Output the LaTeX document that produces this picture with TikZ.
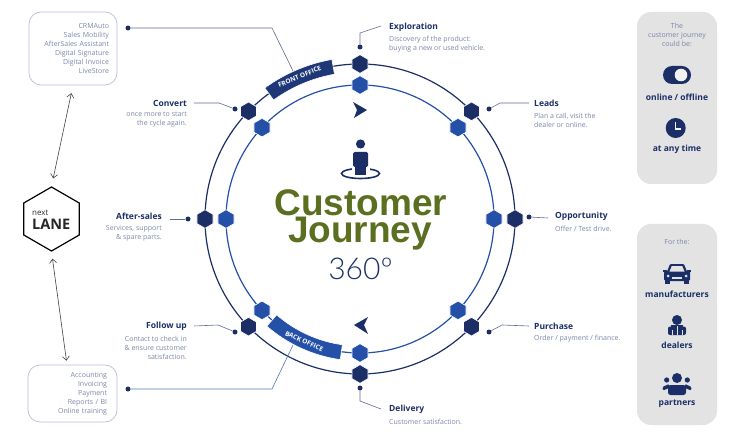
\documentclass[tikz,border=0pt]{standalone}
\usepackage{fontspec}
\setmainfont{Open Sans}
\newfontfamily\titlefont{Liberation Sans}
\newfontfamily\lightfont{Lato Light}
\usetikzlibrary{shapes.geometric,arrows.meta}
\definecolor{navy}{HTML}{1B2F66}
\definecolor{ringblue}{HTML}{2450A8}
\definecolor{olive}{HTML}{5A7020}
\definecolor{panelgray}{HTML}{E3E3E3}
\definecolor{softtext}{HTML}{7C86A8}
\definecolor{boxline}{HTML}{B4BEDC}
\tikzset{
  outerhex/.style={regular polygon,regular polygon sides=6,shape border rotate=30,inner sep=0pt,minimum size=18.5pt,fill=navy,draw=white,line width=.6pt},
  innerhex/.style={outerhex,fill=ringblue},
  spot/.style={circle,fill=navy,inner sep=0pt,minimum size=5pt},
  leader/.style={draw=navy!70,line width=.6pt},
  head/.style={font=\bfseries\fontsize{8.5}{10}\selectfont,text=navy,inner sep=0pt},
  small/.style={font=\fontsize{7}{9}\selectfont,text=softtext,inner sep=0pt},
  toolbox/.style={draw=boxline,rounded corners=12pt,line width=.7pt,font=\fontsize{7}{9}\selectfont,text=softtext,align=right},
  panel/.style={fill=panelgray,rounded corners=14pt,minimum width=80pt,inner sep=0pt},
  bannertext/.style={font=\bfseries\fontsize{6.5}{7}\selectfont,text=white,inner sep=0pt},
  titletext/.style={font=\titlefont\bfseries\fontsize{37}{37}\selectfont,text=olive,inner sep=0pt,anchor=base}
}
\begin{document}
\begin{tikzpicture}[x=1pt,y=1pt]
  \useasboundingbox (0,0) rectangle (736,437);
  \begin{scope}[shift={(360,218)}]
    \draw[navy,line width=1.2pt] (0,0) circle (155);
    \draw[ringblue,line width=1.2pt] (0,0) circle (134);
    \fill[navy!75!ringblue,draw=white,line width=.6pt] (100:162) arc[start angle=100,end angle=126,radius=162]
      -- (126:147) arc[start angle=126,end angle=100,radius=147] -- cycle;
    \fill[ringblue,draw=white,line width=.6pt] (229:142) arc[start angle=229,end angle=262,radius=142]
      -- (262:127) arc[start angle=262,end angle=229,radius=127] -- cycle;
    \draw
      (90:155) node[outerhex] (o0){}
      (44:155) node[outerhex] (o1){}
      (0:155) node[outerhex] (o2){}
      (-44:155) node[outerhex] (o3){}
      (-90:155) node[outerhex] (o4){}
      (224:155) node[outerhex] (o5){}
      (180:155) node[outerhex] (o6){}
      (136:155) node[outerhex] (o7){};
    \draw
      (90:134) node[innerhex] (i0){}
      (43:134) node[innerhex] (i1){}
      (0:134) node[innerhex] (i2){}
      (-43:134) node[innerhex] (i3){}
      (-90:134) node[innerhex] (i4){}
      (223:134) node[innerhex] (i5){}
      (180:134) node[innerhex] (i6){}
      (137:134) node[innerhex] (i7){};
    \node[bannertext,rotate=23] (frontoffice) at (113:154.5) {FRONT OFFICE};
    \node[bannertext,rotate=-24.5] (backoffice) at (245.5:134.5) {BACK OFFICE};
  \end{scope}
  \fill[navy] (353,335) -- (367,327) -- (354,319) -- (357,327) -- cycle;
  \fill[navy] (368,120) -- (354,112) -- (368,103) -- (364,112) -- cycle;
  \draw[navy,line width=1.6pt] (360.5,263.5) ellipse (19 and 5);
  \fill[white] (351.5,261) rectangle (369.5,272);
  \fill[navy] (360.5,293) circle (4.6);
  \fill[navy,rounded corners=1.5pt] (353,285) rectangle (368,270);
  \fill[navy] (355,271) rectangle (366,262);
  \node[titletext] (customer) at (361,221.5) {Customer};
  \node[titletext] (journey) at (360,194) {Journey};
  \node[font=\lightfont\fontsize{30}{30}\selectfont,text=navy,inner sep=0pt] (degrees) at (360.5,168) {360º};

  \node[spot] (s0) at (360,390) {};
  \node[spot] (s1) at (489,328) {};
  \node[spot] (s2) at (529,220) {};
  \node[spot] (s3) at (489,105) {};
  \node[spot] (s4) at (360,49) {};
  \node[spot] (s5) at (235,105) {};
  \node[spot] (s6) at (188,218) {};
  \node[spot] (s7) at (235,328) {};
  \node[spot] (s8) at (128,409) {};
  \node[spot] (s9) at (128,48) {};
  \coordinate (frontend) at (293,366);
  \coordinate (backend) at (293,92);

  \node[head,anchor=west] (exploration) at (389,410) {Exploration};
  \node[small,anchor=west,align=left] (explorationtext) at (389,392.5) {Discovery of the product:\\buying a new or used vehicle.};
  \node[head,anchor=west] (leads) at (534,334) {Leads};
  \node[small,anchor=west,align=left] (leadstext) at (534,316.5) {Plan a call, visit the\\dealer or online.};
  \node[head,anchor=west] (opportunity) at (555,221) {Opportunity};
  \node[small,anchor=west,align=left] (opportunitytext) at (555,208) {Offer / Test drive.};
  \node[head,anchor=west] (purchase) at (534,111) {Purchase};
  \node[small,anchor=west,align=left] (purchasetext) at (534,98) {Order / payment / finance.};
  \node[head,anchor=west] (delivery) at (389,28) {Delivery};
  \node[small,anchor=west,align=left] (deliverytext) at (389,15) {Customer satisfaction.};
  \node[head,anchor=east] (followup) at (187,111) {Follow up};
  \node[small,anchor=east,align=right] (followuptext) at (187,89) {Contact to check in\\\& ensure customer\\satisfaction.};
  \node[head,anchor=east] (aftersales) at (162,221) {After-sales};
  \node[small,anchor=east,align=right] (aftersalestext) at (162,203.5) {Services, support\\\& spare parts.};
  \node[head,anchor=east] (convert) at (187,334) {Convert};
  \node[small,anchor=east,align=right] (converttext) at (187,317.5) {once more to start\\the cycle again.};

  \begin{scope}[leader]
    \draw (s0) -- (360,404) -- ([xshift=-8pt,yshift=1pt]exploration.west);
    \draw (s1) -- (500,334) -- ([xshift=-5pt]leads.west);
    \draw (s2) -- ([xshift=-7pt,yshift=-2pt]opportunity.west);
    \draw (s3) -- (502,112) -- ([xshift=-5pt]purchase.west);
    \draw (s4) -- (360,36) -- ([xshift=-8pt]delivery.west);
    \draw (s5) -- (218,112) -- ([xshift=7pt]followup.east);
    \draw (s6) -- ([xshift=8pt,yshift=-3pt]aftersales.east);
    \draw (s7) -- (219,334) -- ([xshift=7pt]convert.east);
    \draw (s8) -- (272,409) -- (frontend);
    \draw[ringblue!80] (s9) -- (272,48) -- (backend);
  \end{scope}

  \node[toolbox,minimum width=88pt,minimum height=73pt,text width=72pt] (frontbox) at (73,388.5)
    {CRMAuto\\Sales Mobility\\AfterSales Assistant\\Digital Signature\\Digital Invoice\\LiveStore};
  \node[toolbox,minimum width=89pt,minimum height=57pt,text width=69pt] (backbox) at (72.5,43.5)
    {Accounting\\Invoicing\\Payment\\Reports / BI\\Online training};
  \node[regular polygon,regular polygon sides=6,shape border rotate=30,draw=black,line width=1.2pt,minimum size=64pt,inner sep=0pt] (lane) at (51.5,218) {};
  \node[font=\fontsize{8}{8}\selectfont,text=black!85,inner sep=0pt,anchor=west] (lanesmall) at (32,224) {next};
  \node[font=\bfseries\fontsize{14.5}{14.5}\selectfont,text=black!85,inner sep=0pt,anchor=west] (lanebig) at (32,213) {LANE};
  \begin{scope}[{Straight Barb[length=4pt,width=7pt]}-{Straight Barb[length=4pt,width=7pt]},black!75,line width=.6pt]
    \draw[shorten >=8pt,shorten <=8pt] (lane.north) to (frontbox.south);
    \draw[shorten >=4pt,shorten <=7pt] (lane.south) to ([xshift=-5.5pt]backbox.north);
  \end{scope}

  \node[panel,minimum height=172pt] (panelone) at (677,339) {};
  \node[panel,minimum height=201pt] (paneltwo) at (677,112.5) {};
  \node[small,align=center] (couldbe) at (677,402) {The\\customer journey\\could be:};
  \fill[navy,rounded corners=9pt] (663,353) rectangle (691,371);
  \fill[panelgray!50!white] (681,362) circle (6.3);
  \node[head] (online) at (677,340) {online / offline};
  \fill[navy] (675.7,309) circle (10);
  \draw[panelgray!40!white,line width=1.4pt] (675.7,314.5) -- (675.7,308) -- (681,308);
  \node[head] (anytime) at (677,288) {at any time};
  \node[small] (forthe) at (677,195) {For the:};
  \fill[navy] (665,153) rectangle (670,158);
  \fill[navy] (684,153) rectangle (689,158);
  \fill[navy,rounded corners=1.5pt] (664,156) rectangle (690,166);
  \fill[navy,rounded corners=1pt] (666.5,164) -- (670,173) -- (684,173) -- (687.5,164) -- cycle;
  \fill[panelgray] (669.5,165.5) -- (671.8,171) -- (682.2,171) -- (684.5,165.5) -- cycle;
  \fill[navy] (663,167.5) rectangle (667,165.5);
  \fill[navy] (687,167.5) rectangle (691,165.5);
  \fill[panelgray] (668,161) circle (1.5);
  \fill[panelgray] (686,161) circle (1.5);
  \fill[panelgray] (672,158.5) rectangle (682,160);
  \node[head] (manufacturers) at (677,143) {manufacturers};
  \fill[navy] (677,117) circle (5);
  \fill[navy,rounded corners=2pt] (668,102) rectangle (686,110.5);
  \fill[navy] (671,102) -- (671,112) -- (683,112) -- (683,102) -- cycle;
  \draw[panelgray,line width=.6pt] (672,102) -- (672,107);
  \draw[panelgray,line width=.6pt] (682,102) -- (682,107);
  \draw[panelgray,line width=.8pt] (677,102) -- (677,111);
  \node[head] (dealers) at (677,92) {dealers};
  \fill[navy] (677,59) circle (5);
  \fill[navy] (666.7,57) circle (2.6);
  \fill[navy] (687.3,57) circle (2.6);
  \fill[navy,rounded corners=2.5pt] (668,42) rectangle (686,52);
  \fill[navy,rounded corners=1pt] (662.5,50) -- (669,53) -- (669,49) -- (663,46.5) -- cycle;
  \fill[navy,rounded corners=1pt] (691.5,50) -- (685,53) -- (685,49) -- (691,46.5) -- cycle;
  \node[head] (partners) at (677,33) {partners};
\end{tikzpicture}
\end{document}
